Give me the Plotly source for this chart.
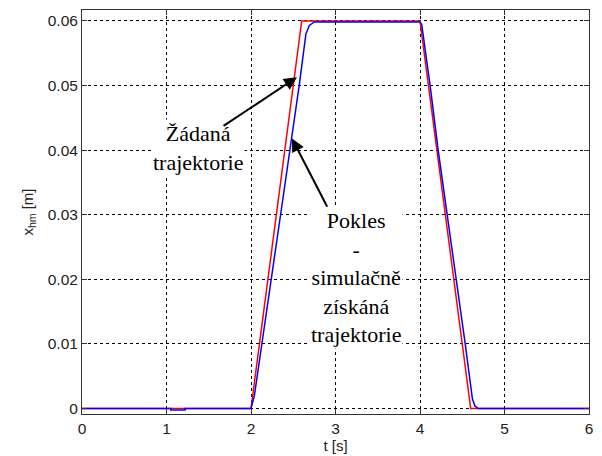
import plotly.graph_objects as go

# Desired trajectory (red)
t_ref = [0.0, 2.0, 2.6, 4.0, 4.6, 6.0]
x_ref = [0.0, 0.0, 0.06, 0.06, 0.0, 0.0]

# Simulated trajectory (blue)
t_sim = [0.0, 1.05, 1.05, 1.22, 1.22, 2.0, 2.04, 2.13, 2.35, 2.57, 2.62, 2.65, 2.69, 2.75,
         4.0, 4.02, 4.12, 4.215, 4.535, 4.59, 4.62, 4.65, 4.69, 6.0]
x_sim = [0.0, 0.0, -0.00025, -0.00025, 0.0, 0.0, 0.002, 0.01, 0.03, 0.05, 0.0555, 0.058, 0.0593, 0.05985,
         0.05985, 0.0595, 0.05, 0.04, 0.01, 0.004, 0.0015, 0.0004, 0.0, 0.0]

x_ticks = [0, 1, 2, 3, 4, 5, 6]
y_ticks = [0, 0.01, 0.02, 0.03, 0.04, 0.05, 0.06]
y_tick_labels = ["0", "0.01", "0.02", "0.03", "0.04", "0.05", "0.06"]

fig = go.Figure()
fig.add_trace(go.Scatter(x=t_ref, y=x_ref, mode="lines",
                         line=dict(color="rgb(255,0,0)", width=1.5), showlegend=False))
fig.add_trace(go.Scatter(x=t_sim, y=x_sim, mode="lines",
                         line=dict(color="rgb(0,0,255)", width=1.5), showlegend=False))

serif = dict(family="Liberation Serif, Times New Roman, serif", size=22, color="black")

fig.add_annotation(x=1.373, y=0.0403, text="Žádaná<br>trajektorie", showarrow=False,
                   font=serif, bgcolor="white", xref="x", yref="y")
fig.add_annotation(x=3.243, y=0.0203,
                   text="Pokles<br>-<br>simulačně<br>získáná<br>trajektorie",
                   showarrow=False, font=serif, bgcolor="white", xref="x", yref="y")

# arrows
fig.add_annotation(x=2.544, y=0.0513, ax=1.657, ay=0.0436, xref="x", yref="y",
                   axref="x", ayref="y", text="", showarrow=True, arrowhead=2,
                   arrowsize=1.3, arrowwidth=2, arrowcolor="black")
fig.add_annotation(x=2.485, y=0.0418, ax=2.911, ay=0.0310, xref="x", yref="y",
                   axref="x", ayref="y", text="", showarrow=True, arrowhead=2,
                   arrowsize=1.3, arrowwidth=2, arrowcolor="black")

tick_font = dict(family="Liberation Sans, Arial, sans-serif", size=15.5, color="#222")
title_font = dict(family="Liberation Sans, Arial, sans-serif", size=15, color="#222")

fig.update_xaxes(range=[0, 6], tickvals=x_ticks, ticktext=[str(v) for v in x_ticks],
                 showgrid=True, gridcolor="black", gridwidth=1, griddash="3px,3px",
                 zeroline=False, showline=True, linecolor="#333", linewidth=1,
                 mirror="ticks", ticks="inside", ticklen=5, tickcolor="#333",
                 automargin=False,
                 tickfont=tick_font, title=dict(text="t [s]", font=title_font, standoff=2))
fig.update_yaxes(range=[-0.00085, 0.0617], tickvals=y_ticks, ticktext=y_tick_labels,
                 showgrid=True, gridcolor="black", gridwidth=1, griddash="3px,3px",
                 zeroline=False, showline=True, linecolor="#333", linewidth=1,
                 mirror="ticks", ticks="inside", ticklen=5, tickcolor="#333",
                 automargin=False,
                 tickfont=tick_font,
                 title=dict(text="x<sub>hm</sub> [m]", font=title_font, standoff=10))

fig.update_layout(width=602, height=456, margin=dict(l=82, r=13, t=10, b=42),
                  paper_bgcolor="white", plot_bgcolor="white")

fig.write_html("out.html")
